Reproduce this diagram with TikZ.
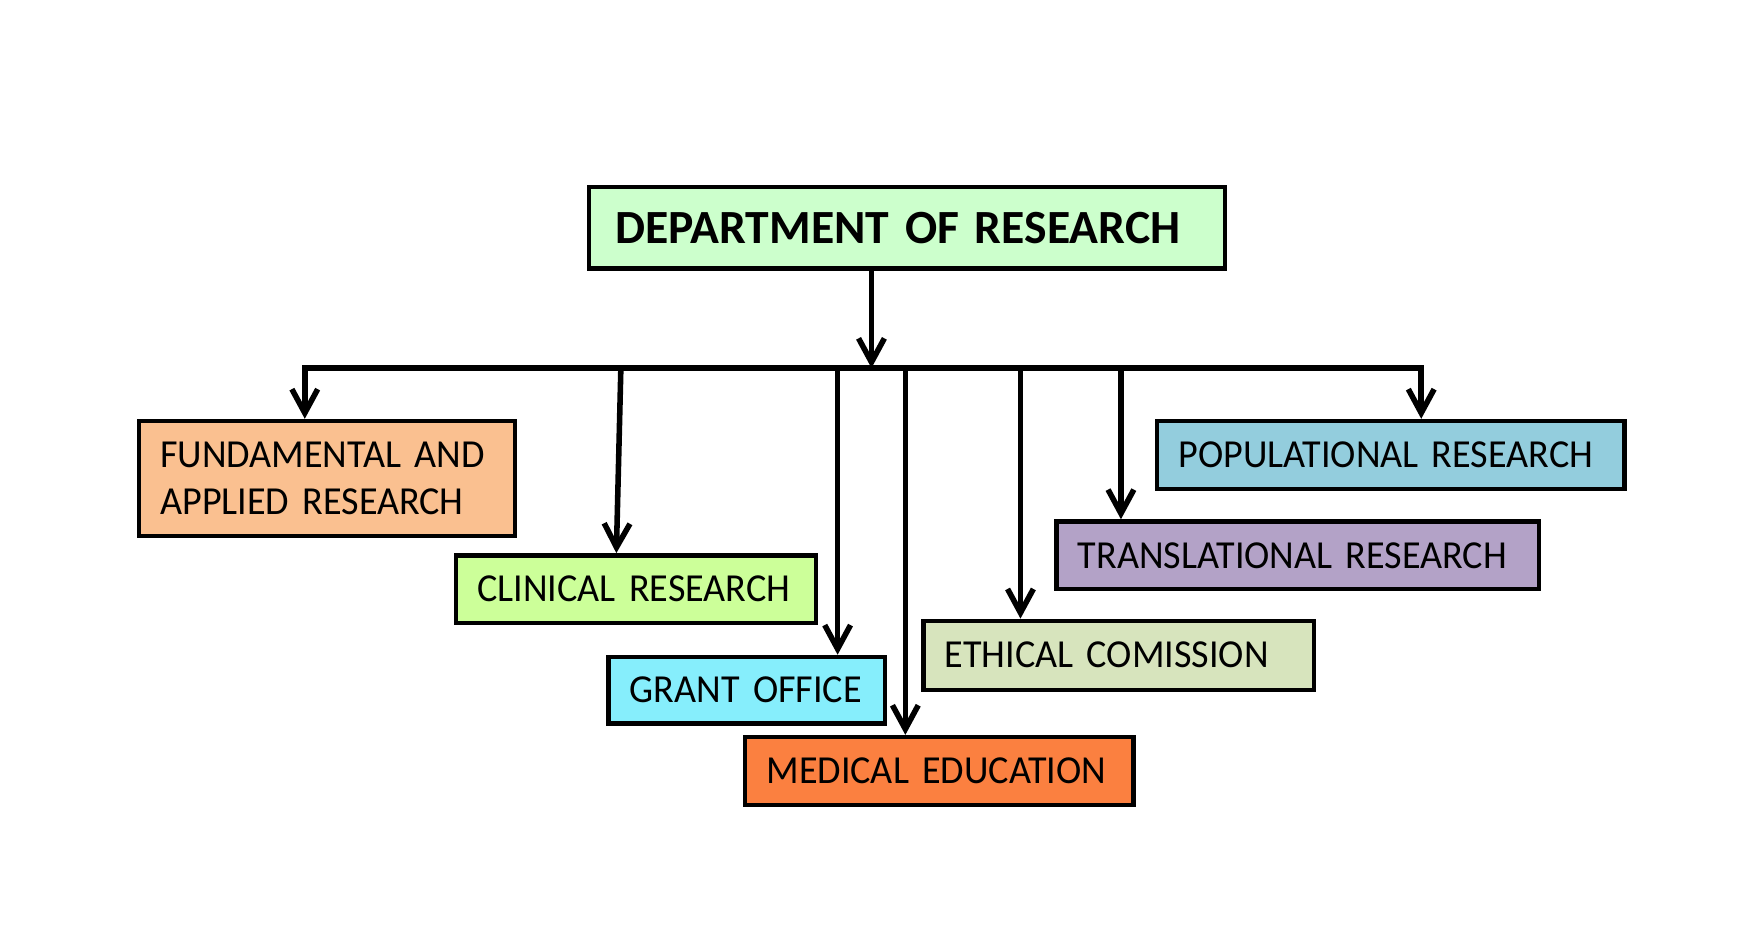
\documentclass[tikz,border=0pt]{standalone}
\usepackage{fontspec}
\setmainfont{Carlito}
\newfontfamily\boxfont{Carlito}[FakeStretch=0.96]
\usetikzlibrary{arrows.meta, calc}
\hyphenpenalty=10000
\exhyphenpenalty=10000
\definecolor{deptcol}{HTML}{CCFFCC}
\definecolor{fundcol}{HTML}{FAC090}
\definecolor{clincol}{HTML}{CCFF99}
\definecolor{grantcol}{HTML}{86EEFC}
\definecolor{medcol}{HTML}{FB8040}
\definecolor{ethcol}{HTML}{D7E4BD}
\definecolor{transcol}{HTML}{B3A2C7}
\definecolor{popcol}{HTML}{93CDDD}
\begin{document}
\begin{tikzpicture}[x=0.01cm, y=-0.01cm, >={Straight Barb[length=6pt, width=6.5pt]},
    box/.style={draw, line width=1.1pt, anchor=north west, inner xsep=0.19cm, inner ysep=0pt, align=left, font=\boxfont\fontsize{10}{11.7}\selectfont},
    link/.style={line width=1.4pt}]
    \fill[white] (0,0) rectangle (1560,824);
    \useasboundingbox (0,0) rectangle (1560,824);
    \node[box, fill=deptcol, inner xsep=0.23cm, text width=5.17cm, minimum height=0.72cm, font=\fontsize{12}{14}\selectfont\bfseries] (dept) at (520,164) {DEPARTMENT~OF~RESEARCH};
    \node[box, fill=fundcol, text width=2.95cm, minimum height=1.02cm] (fund) at (121,371) {FUNDAMENTAL~AND\\APPLIED~RESEARCH};
    \node[box, fill=clincol, text width=2.81cm, minimum height=0.60cm] (clin) at (402,490) {CLINICAL~RESEARCH};
    \node[box, fill=grantcol, text width=2.07cm, minimum height=0.59cm] (grant) at (537,580) {GRANT~OFFICE};
    \node[box, fill=medcol, text width=3.06cm, minimum height=0.60cm] (med) at (658,651) {MEDICAL~EDUCATION};
    \node[box, fill=ethcol, text width=3.08cm, minimum height=0.61cm] (eth) at (816,548) {ETHICAL~COMISSION};
    \node[box, fill=transcol, text width=3.89cm, minimum height=0.60cm] (trans) at (934,460) {TRANSLATIONAL~RESEARCH};
    \node[box, fill=popcol, text width=3.76cm, minimum height=0.60cm] (pop) at (1023,371) {POPULATIONAL~RESEARCH};
    \coordinate (hub) at (772,326);
    \coordinate (b1) at (270,326);
    \coordinate (b2) at (550,326);
    \coordinate (b3) at (742,326);
    \coordinate (b4) at (802,326);
    \coordinate (b5) at (904,326);
    \coordinate (b6) at (993,326);
    \coordinate (b7) at (1259,326);
    \draw [->, link] (hub |- dept.south) -- (hub);
    \draw [<->, link] (b1 |- fund.north) -- (b1) -- (b7) -- (b7 |- pop.north);
    \draw [->, link] (b2) -- ($(b2 |- clin.north)+(-4,0)$);
    \draw [->, link] (b3) -- (b3 |- grant.north);
    \draw [->, link] (b4) -- (b4 |- med.north);
    \draw [->, link] (b5) -- (b5 |- eth.north);
    \draw [->, link] (b6) -- (b6 |- trans.north);
\end{tikzpicture}
\end{document}
